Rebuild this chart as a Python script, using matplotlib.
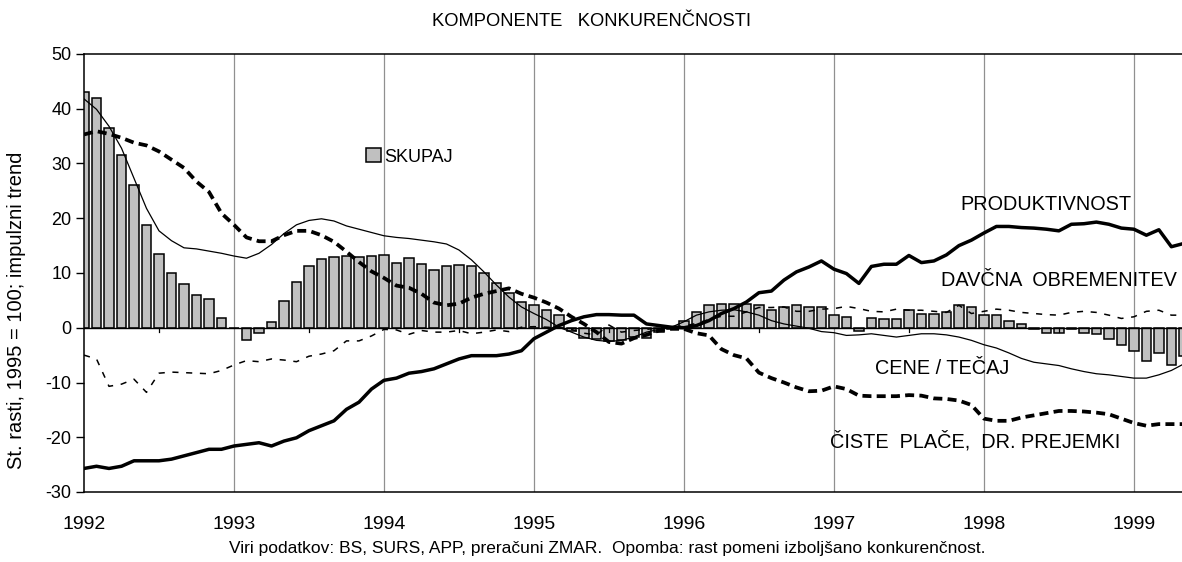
import matplotlib
matplotlib.use("Agg")
import matplotlib.pyplot as plt
import numpy as np

plt.rcParams['font.family'] = ['Liberation Sans', 'DejaVu Sans']
plt.rcParams['axes.unicode_minus'] = False

# monthly data, Jan 1992 .. May 1999
years = [1992, 1993, 1994, 1995, 1996, 1997, 1998, 1999]

skupaj = [
    43, 42, 36.5, 31.5, 26, 18.8, 13.5, 10, 8, 6, 5.2, 1.8,
    0, -2.2, -1, 1, 4.9, 8.3, 11.3, 12.5, 12.9, 13.1, 12.9, 13.1,
    13.3, 11.9, 12.8, 11.6, 10.6, 11.2, 11.5, 11.2, 10, 8.2, 6.4, 4.7,
    4.1, 3.2, 2.3, -0.6, -1.8, -2.1, -2.4, -2.2, -1.7, -1.8, -0.8, -0.3,
    1.2, 2.9, 4.1, 4.4, 4.4, 4.3, 4.1, 3.2, 3.8, 4.1, 3.8, 3.8,
    2.4, 2.0, -0.6, 1.8, 1.65, 1.65, 3.2, 2.6, 2.6, 2.9, 4.2, 3.8,
    2.3, 2.3, 1.3, 0.7, -0.3, -0.9, -0.9, -0.3, -0.9, -1.2, -2.0, -3.2,
    -4.3, -6.0, -4.6, -6.8, -5.2,
]

produktivnost = [
    -25.7, -25.3, -25.7, -25.3, -24.3, -24.3, -24.3, -24.0, -23.4, -22.8, -22.2, -22.2,
    -21.6, -21.3, -21.0, -21.6, -20.7, -20.1, -18.8, -17.9, -17.0, -14.9, -13.6, -11.2,
    -9.6, -9.2, -8.3, -8.0, -7.5, -6.6, -5.7, -5.1, -5.1, -5.1, -4.8, -4.2,
    -2.0, -0.8, 0.4, 1.3, 2.0, 2.4, 2.4, 2.3, 2.3, 0.7, 0.4, 0.1,
    0.0, 0.4, 1.3, 2.6, 3.5, 4.7, 6.4, 6.7, 8.7, 10.2, 11.1, 12.2,
    10.7, 9.9, 8.1, 11.2, 11.6, 11.6, 13.2, 11.9, 12.2, 13.3, 15.0, 16.0,
    17.3, 18.5, 18.5, 18.3, 18.2, 18.0, 17.7, 18.9, 19.0, 19.3, 18.9, 18.2,
    18.0, 16.9, 17.9, 14.8, 15.4,
]

davcna = [
    -5.0, -5.7, -10.7, -10.3, -9.4, -11.8, -8.3, -8.1, -8.2, -8.3, -8.4, -7.8,
    -6.8, -6.0, -6.2, -5.7, -5.9, -6.2, -5.2, -4.8, -4.2, -2.4, -2.4, -1.5,
    -0.3, -0.4, -1.2, -0.5, -0.8, -0.8, -0.5, -1.1, -0.8, -0.4, -0.7, 0.1,
    0.2, 0.1, 0.0, -0.3, -1.0, -1.3, 0.5, -0.8, -0.5, -0.3, 0.0, 0.2,
    0.3, 0.8, 1.5, 2.1, 2.1, 2.9, 3.7, 3.7, 3.8, 3.0, 3.0, 3.4,
    3.5, 3.9, 3.5, 3.0, 2.9, 3.4, 3.2, 3.2, 3.0, 2.8, 4.1, 2.6,
    3.0, 3.4, 3.2, 2.8, 2.6, 2.4, 2.3, 2.8, 3.0, 2.8, 2.3, 1.7,
    2.0, 3.0, 3.2, 2.3, 2.3,
]

cene_tecaj = [
    41.8, 39.9, 36.8, 32.8, 27.3, 21.8, 17.7, 15.9, 14.6, 14.4, 14.0, 13.6,
    13.1, 12.7, 13.6, 15.2, 17.2, 18.8, 19.6, 19.9, 19.5, 18.6, 18.0, 17.4,
    16.8, 16.5, 16.3, 16.0, 15.7, 15.3, 14.2, 12.4, 10.2, 7.8, 5.6, 3.8,
    2.6, 1.5, 0.1, -0.8, -1.7, -2.3, -2.5, -2.3, -1.7, -0.8, -0.3, 0.1,
    1.1, 2.3, 2.9, 3.2, 3.3, 2.9, 2.3, 1.3, 0.7, 0.3, -0.1, -0.7,
    -0.9, -1.4, -1.3, -1.1, -1.4, -1.7, -1.4, -1.1, -1.1, -1.3, -1.7, -2.3,
    -3.1, -3.7, -4.6, -5.6, -6.3, -6.6, -6.9, -7.5, -8.0, -8.4, -8.6, -8.9,
    -9.2, -9.2, -8.6, -7.8, -6.6,
]

ciste_place = [
    35.3, 35.9, 35.4, 34.7, 33.8, 33.3, 32.2, 30.7, 29.2, 26.7, 24.8, 20.9,
    18.8, 16.5, 15.8, 15.8, 16.9, 17.7, 17.7, 16.9, 15.7, 13.9, 12.0, 10.3,
    9.1, 7.7, 7.3, 6.2, 4.6, 4.1, 4.4, 5.5, 6.2, 6.7, 7.2, 6.2,
    5.5, 4.6, 3.5, 2.0, 0.7, -0.8, -2.6, -2.9, -1.9, -1.3, -0.5, -0.2,
    -0.2, -1.0, -1.4, -3.9, -5.0, -5.6, -8.2, -9.2, -10.0, -10.9, -11.6, -11.5,
    -10.7, -11.2, -12.4, -12.5, -12.5, -12.5, -12.3, -12.4, -12.9, -13.0, -13.3, -14.1,
    -16.6, -17.0, -17.0, -16.4, -16.0, -15.6, -15.2, -15.2, -15.3, -15.5, -15.8, -16.6,
    -17.4, -17.9, -17.6, -17.6, -17.6,
]

x = np.arange(len(skupaj))

fig = plt.figure(figsize=(11.82, 5.62), dpi=100)
ax = fig.add_axes([84 / 1182, 1 - 492 / 562, 1 - 84 / 1182, 438 / 562])

# year grid lines
for k in range(1, len(years)):
    ax.axvline(12 * k, color='#909090', lw=0.9, zorder=0)

bars = ax.bar(x, skupaj, width=0.75, color='#c0c0c0', edgecolor='black',
              linewidth=1.1, zorder=2, label='SKUPAJ')

# zero axis with mid-year tick marks
ax.axhline(0, color='black', lw=1.0, zorder=3)
for k in range(len(years)):
    ax.plot([12 * k + 6, 12 * k + 6], [0, -0.8], color='black', lw=0.9, zorder=3)

ax.plot(x, cene_tecaj, color='black', lw=0.9, zorder=4)
ax.plot(x, davcna, color='black', lw=1.1, dashes=(4, 5), zorder=4)
ax.plot(x, ciste_place, color='black', lw=2.7, dashes=(2.4, 1.4), zorder=4)
ax.plot(x, produktivnost, color='black', lw=2.5, zorder=5)

ax.set_xlim(0, 87.85)
ax.set_ylim(-30, 50)
ax.set_yticks(range(-30, 51, 10))
ax.set_yticklabels([str(v) for v in range(-30, 51, 10)])
ax.set_xticks([12 * k for k in range(len(years))])
ax.set_xticklabels([str(y) for y in years])
ax.tick_params(axis='x', length=0, pad=17, labelsize=14)
ax.tick_params(axis='y', direction='out', length=6, width=1, labelsize=13, pad=3)

for s in ['left', 'top', 'bottom']:
    ax.spines[s].set_linewidth(1.1)
ax.spines['right'].set_visible(False)

lab = dict(fontsize=14.3, color='black', va='center', ha='left', zorder=6)
ax.text(70.1, 22.6, 'PRODUKTIVNOST', **lab)
ax.text(68.6, 8.6, 'DAVČNA  OBREMENITEV', clip_on=True, **lab)
ax.text(63.3, -7.5, 'CENE / TEČAJ', **lab)
ax.text(59.7, -20.7, 'ČISTE  PLAČE,  DR. PREJEMKI', **lab)

ax.legend(handles=[bars], loc='center left', bbox_to_anchor=(0.257, 0.765),
          frameon=False, fontsize=13, handlelength=0.8, handleheight=0.8,
          handletextpad=0.2, borderpad=0, borderaxespad=0)

ax.set_ylabel('St. rasti, 1995 = 100; impulzni trend', fontsize=14.5)
ax.yaxis.set_label_coords(-0.053, 0.415)

fig.text(592 / 1182, 1 - 22 / 562, 'KOMPONENTE   KONKURENČNOSTI',
         ha='center', va='center', fontsize=13.2)
fig.text(607 / 1182, 1 - 549 / 562,
         'Viri podatkov: BS, SURS, APP, preračuni ZMAR.  Opomba: rast pomeni izboljšano konkurenčnost.',
         ha='center', va='center', fontsize=12.5)

fig.savefig('out.png', dpi=100)
